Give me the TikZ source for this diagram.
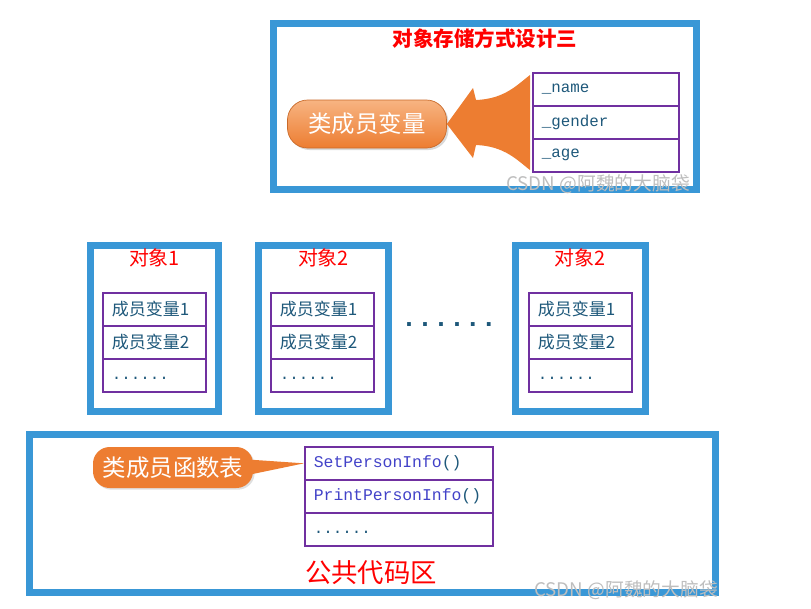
\documentclass[tikz,border=0pt]{standalone}
\usepackage{fontspec}
\usepackage{tikz}
\usetikzlibrary{calc,shadows}
\newfontfamily\cjk{Noto Sans CJK SC}
\newfontfamily\code{Liberation Mono}
\definecolor{frameblue}{RGB}{57,151,214}
\definecolor{cellpurple}{RGB}{112,48,160}
\definecolor{celltext}{RGB}{30,88,122}
\definecolor{fnblue}{RGB}{66,66,200}
\definecolor{btnorange}{RGB}{237,125,49}
\definecolor{btnlight}{RGB}{247,180,130}
\definecolor{titlered}{RGB}{255,0,0}
\definecolor{wmgray}{RGB}{190,190,190}

\begin{document}
\begin{tikzpicture}[x=0.3mm, y=-0.3mm,
  frame/.style={draw=frameblue, line width=2.1mm},
  redtitle/.style={text=titlered, font=\cjk\fontsize{17}{17}\selectfont},
  cell/.style={draw=cellpurple, line width=1.4pt, anchor=north west,
    minimum height=9.9mm, inner xsep=2.7mm, inner ysep=0pt, align=left, text=celltext},
  varcell/.style={cell, text width=25.5mm, font=\cjk\fontsize{14.5}{14.5}\selectfont},
  fieldcell/.style={cell, text width=38.4mm, font=\code\fontsize{13.5}{13.5}\selectfont},
  funcell/.style={cell, text width=51mm, font=\code\fontsize{14}{14}\selectfont, text=fnblue},
  dotcell/.style={text height=0.7em, text depth=0pt, font=\code\fontsize{13.5}{13.5}\selectfont, text=celltext},
  wmark/.style={text=wmgray, font=\cjk\fontsize{16}{16}\selectfont}]
  \useasboundingbox (0,0) rectangle (811,608);

  % top panel: storage design three
  \draw[frame] (273.5,23.5) rectangle (696.5,189.5);
  \node[redtitle, font=\cjk\bfseries\fontsize{17.5}{17.5}\selectfont] (design) at (485,39) {对象存储方式设计三};
  \node[fieldcell] (fname)   at (532,72)  {\_name};
  \node[fieldcell] (fgender) at (532,105) {\_gender};
  \node[fieldcell] (fage)    at (532,138) {\_age};
  \node[rounded corners=6mm, minimum width=47.7mm, minimum height=14.4mm,
    top color=btnlight, bottom color=btnorange, draw=btnorange!85!black, line width=0.6pt,
    text=white, font=\cjk\fontsize{20}{20}\selectfont,
    drop shadow={opacity=0.3, shadow xshift=0.6mm, shadow yshift=-0.6mm}] (members) at (367,124) {类成员变量};
  % big block arrow from the fields to the button
  \fill[btnorange] (members.east) -- (473,88) -- (476,100)
    .. controls (505,99) and (518,84) .. (530,75) -- (530,170)
    .. controls (518,161) and (505,146) .. (476,145) -- (473,158) -- cycle;
  \node[wmark] (wmtop) at (598,184) {CSDN @阿魏的大脑袋};

  % three objects
  \draw[frame] (90.5,245.5) rectangle (218.5,411.5);
  \draw[frame] (258.5,245.5) rectangle (388.5,411.5);
  \draw[frame] (515.5,245.5) rectangle (645,411.5);
  \node[redtitle] (obja) at (154.5,258) {对象1};
  \node[redtitle] (objb) at (323.5,258) {对象2};
  \node[redtitle] (objc) at (580,258)   {对象2};
  \node[varcell] (avar1) at (102,292) {成员变量1};
  \node[varcell] (avar2) at (102,325) {成员变量2};
  \node[varcell, dotcell] (amore) at (102,358) {......};
  \node[varcell] (bvar1) at (270,292) {成员变量1};
  \node[varcell] (bvar2) at (270,325) {成员变量2};
  \node[varcell, dotcell] (bmore) at (270,358) {......};
  \node[varcell] (cvar1) at (528,292) {成员变量1};
  \node[varcell] (cvar2) at (528,325) {成员变量2};
  \node[varcell, dotcell] (cmore) at (528,358) {......};
  \node[text=celltext, font=\code\bfseries\fontsize{22.7}{22.7}\selectfont] (gap) at (449,325) {......};

  % bottom panel: shared code area
  \draw[frame] (29.5,434.5) rectangle (715.5,592.5);
  \node[funcell] (setinfo)   at (304,446) {SetPersonInfo\textcolor{celltext}{()}};
  \node[funcell] (printinfo) at (304,479) {PrintPersonInfo\textcolor{celltext}{()}};
  \node[funcell, dotcell] (fmore) at (304,512) {......};
  \node[rounded corners=5mm, minimum width=48mm, minimum height=12.3mm, fill=btnorange,
    text=white, font=\cjk\fontsize{20}{20}\selectfont,
    drop shadow={opacity=0.25, shadow xshift=0.5mm, shadow yshift=-0.5mm}] (functable) at (173,467.5) {类成员函数表};
  \fill[btnorange] ($(functable.east)+(-5,-8)$) -- (setinfo.west) -- ($(functable.east)+(-3,7)$) -- cycle;
  \node[text=titlered, font=\cjk\fontsize{22.5}{22.5}\selectfont] (shared) at (371,573) {公共代码区};
  \node[wmark] (wmbottom) at (626,590) {CSDN @阿魏的大脑袋};
\end{tikzpicture}
\end{document}
